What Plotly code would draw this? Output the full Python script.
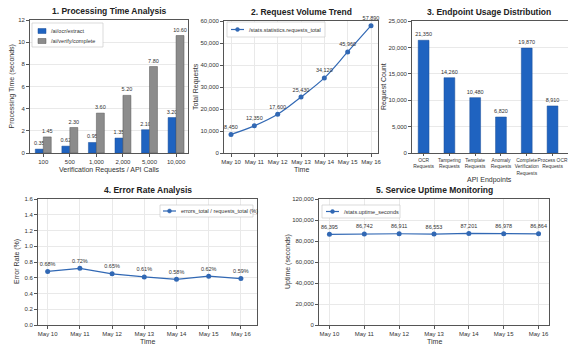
import plotly.graph_objects as go

# ---- data ----
load_levels = ["100", "500", "1,000", "2,000", "5,000", "10,000"]
ocr_extract_s = [0.35, 0.62, 0.95, 1.35, 2.10, 3.20]
verify_complete_s = [1.45, 2.30, 3.60, 5.20, 7.80, 10.60]

days = ["May 10", "May 11", "May 12", "May 13", "May 14", "May 15", "May 16"]
requests_total = [8450, 12350, 17600, 25430, 34120, 45960, 57890]

endpoints = ["OCR<br>Requests", "Tampering<br>Requests", "Template<br>Requests",
             "Anomaly<br>Requests", "Complete<br>Verification<br>Requests",
             "Process OCR<br>Requests"]
endpoint_counts = [21350, 14260, 10480, 6820, 19870, 8910]

error_rate_pct = [0.68, 0.72, 0.65, 0.61, 0.58, 0.62, 0.59]
uptime_s = [86395, 86742, 86911, 86553, 87201, 86978, 86864]

# ---- styling ----
W, H = 568, 347
FONT = "Liberation Sans, Arial, DejaVu Sans, sans-serif"
BLUE = "#1f63c0"
LINE_BLUE = "#3168b4"
GRAY = "#8c8c8c"
FRAME = "#555555"
GRID = "#e9e9e9"


def px_x(v):
    return v / W


def px_y(v):
    return 1 - v / H


# plot-area boxes in pixels: (left, right, top, bottom)
boxes = {
    1: (30, 188, 20, 153),
    2: (224, 378, 21, 153),
    3: (412, 568, 21, 153),
    4: (38, 257, 199, 325),
    5: (319, 549, 199, 325),
}

fig = go.Figure()
label_font = dict(size=5.5, color="#333", family=FONT)

# 1. grouped bars
fig.add_trace(go.Bar(x=load_levels, y=ocr_extract_s, name="/ai/ocr/extract",
                     marker=dict(color=BLUE, line=dict(color="#1a4f99", width=0.5)),
                     texttemplate="%{y:.2f}", textposition="outside", constraintext="none",
                     textfont=label_font, cliponaxis=False, showlegend=False,
                     xaxis="x", yaxis="y"))
fig.add_trace(go.Bar(x=load_levels, y=verify_complete_s, name="/ai/verify/complete",
                     marker=dict(color=GRAY, line=dict(color="#555", width=0.5)),
                     texttemplate="%{y:.2f}", textposition="outside", constraintext="none",
                     textfont=label_font, cliponaxis=False, showlegend=False,
                     xaxis="x", yaxis="y"))

# 2. request volume trend
fig.add_trace(go.Scatter(x=days, y=requests_total, name="/stats.statistics.requests_total",
                         mode="lines+markers+text", line=dict(color=LINE_BLUE, width=1.2, shape="spline"),
                         marker=dict(size=5, color=LINE_BLUE),
                         texttemplate="%{y:,d}", textposition="top center",
                         textfont=label_font, cliponaxis=False, showlegend=False,
                         xaxis="x2", yaxis="y2"))

# 3. endpoint usage
fig.add_trace(go.Bar(x=endpoints, y=endpoint_counts, width=0.42, showlegend=False,
                     marker=dict(color=BLUE, line=dict(color="#1a4f99", width=0.5)),
                     texttemplate="%{y:,d}", textposition="outside", constraintext="none",
                     textfont=label_font, cliponaxis=False,
                     xaxis="x3", yaxis="y3"))

# 4. error rate
fig.add_trace(go.Scatter(x=days, y=error_rate_pct, name="errors_total / requests_total (%)",
                         mode="lines+markers+text", line=dict(color=LINE_BLUE, width=1.2),
                         marker=dict(size=5, color=LINE_BLUE),
                         texttemplate="%{y:.2f}%", textposition="top center",
                         textfont=label_font, cliponaxis=False, showlegend=False,
                         xaxis="x4", yaxis="y4"))

# 5. uptime
fig.add_trace(go.Scatter(x=days, y=uptime_s, name="/stats.uptime_seconds",
                         mode="lines+markers+text", line=dict(color=LINE_BLUE, width=1.2),
                         marker=dict(size=5, color=LINE_BLUE),
                         texttemplate="%{y:,d}", textposition="top center",
                         textfont=label_font, cliponaxis=False, showlegend=False,
                         xaxis="x5", yaxis="y5"))

axis_common = dict(showline=True, mirror=True, linecolor=FRAME, linewidth=0.8,
                   ticks="outside", ticklen=3, tickwidth=0.6, tickcolor=FRAME,
                   tickfont=dict(size=6, color="#333", family=FONT),
                   gridcolor=GRID, gridwidth=0.6, zeroline=False, automargin=False)

x_ranges = {1: [-0.5, 5.45], 2: [-0.3, 6.3], 3: [-0.45, 5.6], 4: [-0.3, 6.5], 5: [-0.3, 6.3]}
y_specs = {
    1: dict(range=[0, 12], dtick=2),
    2: dict(range=[0, 60000], dtick=10000, tickformat=",d"),
    3: dict(range=[0, 25000], dtick=5000, tickformat=",d"),
    4: dict(range=[0, 1.6], dtick=0.2, tickformat=".1f"),
    5: dict(range=[0, 120000], dtick=20000, tickformat=",d"),
}

layout_axes = {}
for i, (l, r, t, b) in boxes.items():
    sfx = "" if i == 1 else str(i)
    xa = dict(axis_common, domain=[px_x(l), px_x(r)], anchor="y" + sfx, type="category",
              range=x_ranges[i], showgrid=i in (2, 4, 5), tickangle=0)
    if i == 3:
        xa["tickfont"] = dict(size=4.9, color="#333", family=FONT)
        xa["ticklen"] = 2
    ya = dict(axis_common, domain=[px_y(b), px_y(t)], anchor="x" + sfx, showgrid=True, **y_specs[i])
    layout_axes["xaxis" + sfx] = xa
    layout_axes["yaxis" + sfx] = ya

fig.update_layout(
    width=W, height=H, margin=dict(l=0, r=0, t=0, b=0),
    paper_bgcolor="white", plot_bgcolor="white",
    font=dict(family=FONT, color="#333"),
    barmode="group", bargap=0.4, bargroupgap=0.0,
    showlegend=False,
    **layout_axes,
)

titles = {
    1: "1. Processing Time Analysis",
    2: "2. Request Volume Trend",
    3: "3. Endpoint Usage Distribution",
    4: "4. Error Rate Analysis",
    5: "5. Service Uptime Monitoring",
}
x_titles = {
    1: ("Verification Requests / API Calls", 170),
    2: ("Time", 170),
    3: ("API Endpoints", 180),
    4: ("Time", 341),
    5: ("Time", 341),
}
y_titles = {
    1: ("Processing Time (seconds)", 11),
    2: ("Total Requests", 196),
    3: ("Request Count", 384),
    4: ("Error Rate (%)", 17),
    5: ("Uptime (seconds)", 288),
}

annotations = []
shapes = []
for i, (l, r, t, b) in boxes.items():
    cx = (l + r) / 2
    if i == 3:
        cx = (412 + 566) / 2
    annotations.append(dict(text="<b>" + titles[i] + "</b>", x=px_x(cx), y=px_y(t - 9),
                            xref="paper", yref="paper", showarrow=False,
                            xanchor="center", yanchor="middle",
                            font=dict(size=8.5, color="#222", family=FONT)))
    txt, ypx = x_titles[i]
    annotations.append(dict(text=txt, x=px_x(cx), y=px_y(ypx), xref="paper", yref="paper",
                            showarrow=False, xanchor="center", yanchor="middle",
                            font=dict(size=7, color="#333", family=FONT)))
    txt, xpx = y_titles[i]
    annotations.append(dict(text=txt, x=px_x(xpx), y=px_y((t + b) / 2), xref="paper",
                            yref="paper", showarrow=False, textangle=-90,
                            xanchor="center", yanchor="middle",
                            font=dict(size=7, color="#333", family=FONT)))


# ---- compact legends (box + key + label) ----
def legend_box(x0, y0, x1, y1):
    shapes.append(dict(type="rect", xref="paper", yref="paper",
                       x0=px_x(x0), x1=px_x(x1), y0=px_y(y1), y1=px_y(y0),
                       line=dict(color="#cccccc", width=0.7),
                       fillcolor="rgba(255,255,255,0.92)", layer="above"))


def legend_text(x, y, txt):
    annotations.append(dict(text=txt, x=px_x(x), y=px_y(y), xref="paper", yref="paper",
                            showarrow=False, xanchor="left", yanchor="middle",
                            font=dict(size=5.5, color="#333", family=FONT)))


def bar_key(x, y, color, edge, txt):
    shapes.append(dict(type="rect", xref="paper", yref="paper",
                       x0=px_x(x), x1=px_x(x + 8), y0=px_y(y + 2.5), y1=px_y(y - 2.5),
                       line=dict(color=edge, width=0.5), fillcolor=color, layer="above"))
    legend_text(x + 11, y, txt)


def line_key(x, y, txt):
    shapes.append(dict(type="line", xref="paper", yref="paper",
                       x0=px_x(x), x1=px_x(x + 13), y0=px_y(y), y1=px_y(y),
                       line=dict(color=LINE_BLUE, width=1.2), layer="above"))
    shapes.append(dict(type="circle", xref="paper", yref="paper",
                       x0=px_x(x + 4.5), x1=px_x(x + 8.5), y0=px_y(y + 2), y1=px_y(y - 2),
                       line=dict(color=LINE_BLUE, width=0.5), fillcolor=LINE_BLUE, layer="above"))
    legend_text(x + 16, y, txt)


legend_box(32, 23, 103, 47)
bar_key(38, 31, BLUE, "#1a4f99", "/ai/ocr/extract")
bar_key(38, 41, GRAY, "#555", "/ai/verify/complete")

legend_box(227, 22, 325, 37)
line_key(231, 29.5, "/stats.statistics.requests_total")

legend_box(160, 205, 253, 217)
line_key(163, 211, "errors_total / requests_total (%)")

legend_box(322, 205, 400, 218)
line_key(326, 211.5, "/stats.uptime_seconds")

fig.update_layout(annotations=annotations, shapes=shapes)

fig.write_html("out.html")
